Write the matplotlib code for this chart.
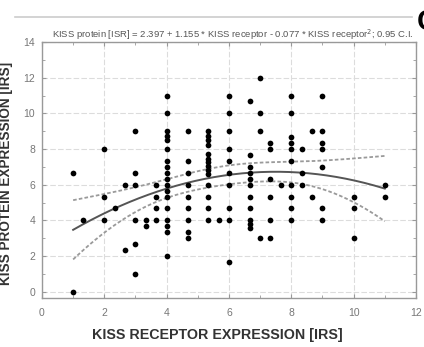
import numpy as np
import matplotlib
matplotlib.use('Agg')
import matplotlib.pyplot as plt
from matplotlib.ticker import MultipleLocator

plt.rcParams['font.family'] = ['Liberation Sans', 'DejaVu Sans']

# data (receptor IRS, protein IRS)
receptor = ([1] * 2 + [1.33] + [2] * 3 + [2.33] + [2.67] * 2 + [3] * 6 + [3.33] * 2 + [3.67] * 4
            + [4] * 18 + [4.67] * 9 + [5.33] * 14 + [5.67] + [6] * 10 + [6.67] * 11 + [7] * 4
            + [7.33] * 6 + [7.67] + [8] * 10 + [8.33] * 3 + [8.67] * 2 + [9] * 7 + [10] * 3 + [11] * 2)
protein = ([6.67, 0] + [4] + [8, 5.33, 4] + [4.67] + [6, 2.33] + [9, 6.67, 6, 4, 2.67, 1]
           + [4, 3.67] + [6, 5.33, 4.67, 4]
           + [11, 10, 9, 8.75, 8.5, 8, 7.33, 7, 6.67, 6.33, 6, 5.67, 5.33, 4.67, 4, 3.67, 3.33, 2]
           + [9, 7.33, 6.67, 6, 5.33, 4.67, 4, 3.33, 3]
           + [9, 8.75, 8.5, 8.25, 7.7, 7.47, 7.26, 7.04, 6.85, 6.63, 6, 5.33, 4.67, 4]
           + [4]
           + [11, 10, 9, 8, 7.33, 6.67, 6, 4.67, 4, 1.67]
           + [10.67, 7.67, 7, 6.67, 6.33, 6, 5.33, 4.67, 4, 3.8, 3.6]
           + [12, 10, 9, 3]
           + [8.33, 8, 6.33, 5.33, 4, 3]
           + [6]
           + [11, 10, 8.67, 8.33, 8, 7.33, 6, 5.33, 4.67, 4]
           + [8, 6.67, 6]
           + [9, 5.33]
           + [11, 9, 8.33, 8, 7, 4.67, 4]
           + [5.33, 4.67, 3]
           + [6, 5.33])

# coefficients printed in the title
coef = [2.397, 1.155, -0.077]

x = np.array(receptor)
y = np.array(protein)

# 95% confidence band of the quadratic fit
X = np.column_stack([np.ones_like(x), x, x ** 2])
b = np.array(coef)
resid = y - X @ b
s2 = np.sum(resid ** 2) / (len(x) - 3)
cov = s2 * np.linalg.inv(X.T @ X)
xg = np.linspace(x.min(), x.max(), 200)
Xg = np.column_stack([np.ones_like(xg), xg, xg ** 2])
fit = Xg @ b
se = np.sqrt(np.einsum('ij,jk,ik->i', Xg, cov, Xg))
lo = fit - 1.976 * se
hi = fit + 1.976 * se

fig = plt.figure(figsize=(4.24, 3.47), dpi=100)
ax = fig.add_axes([0.099, 0.141, 0.882, 0.738])

ax.grid(True, color='#dcdcdc', lw=0.8, ls=(0, (5, 2)))
ax.set_axisbelow(True)

ax.plot(xg, fit, color='#555555', lw=1.4)
ax.plot(xg, lo, color='#9a9a9a', lw=1.3, ls=(0, (2, 1.2)))
ax.plot(xg, hi, color='#9a9a9a', lw=1.3, ls=(0, (2, 1.2)))
ax.scatter(x, y, s=17, color='black', zorder=3, linewidths=0)

ax.set_xlim(0, 12)
ax.set_ylim(-0.35, 14)
ax.xaxis.set_major_locator(MultipleLocator(2))
ax.xaxis.set_minor_locator(MultipleLocator(1))
ax.yaxis.set_major_locator(MultipleLocator(2))
ax.yaxis.set_minor_locator(MultipleLocator(1))
ax.tick_params(which='both', direction='in', top=True, right=True, color='#999999',
               labelsize=7.5, labelcolor='#777777')
ax.tick_params(axis='x', pad=7)
ax.tick_params(axis='y', pad=5)
ax.tick_params(which='major', length=3)
ax.tick_params(which='minor', length=2)
for sp in ax.spines.values():
    sp.set_color('#999999')
    sp.set_linewidth(1.0)

ax.set_title('KISS protein [ISR] = 2.397 + 1.155 * KISS receptor - 0.077 * KISS receptor$^2$; 0.95 C.I.',
             fontsize=6.8, color='#555555', pad=3, x=0.51)
ax.set_xlabel('KISS RECEPTOR EXPRESSION [IRS]', fontsize=10.3, fontweight='bold',
              color='#333333')
ax.xaxis.set_label_coords(0.469, -0.115)
fig.text(13 / 424, 0.499, 'KISS PROTEIN EXPRESSION [IRS]', rotation=90, ha='right', va='center',
         fontsize=9.8, fontweight='bold', color='#333333')

fig.add_artist(plt.Line2D([15 / 424, 412 / 424], [1 - 17 / 347, 1 - 17 / 347],
                          color='#cccccc', lw=1.2))
fig.text(417 / 424, 1 - 22 / 347, 'C', fontsize=21, fontweight='bold', color='black',
         ha='left', va='center')

fig.savefig('out.png', dpi=100)
